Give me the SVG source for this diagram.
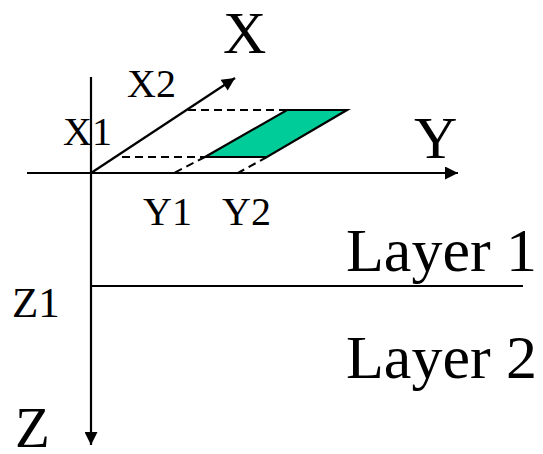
<svg xmlns="http://www.w3.org/2000/svg" width="543" height="454" viewBox="0 0 543 454">
<defs>
<style>
.ax{stroke:#000;stroke-width:2.2;fill:none}
.dash{stroke:#000;stroke-width:2;fill:none;stroke-dasharray:8 5}
.t{font-family:"Liberation Serif","Times New Roman",serif;fill:#000}
.big{font-size:60px}
.lay{font-size:62px}
.lbl{font-size:40px}
</style>
<marker id="ah" viewBox="0 0 10 10" refX="10" refY="5" markerWidth="15" markerHeight="13" markerUnits="userSpaceOnUse" orient="auto">
<path d="M0,0 L10,5 L0,10 z" fill="#000"/>
</marker>
</defs>
<rect width="543" height="454" fill="#fff"/>
<g id="connectors">
<line class="ax" x1="27" y1="173" x2="458" y2="173" marker-end="url(#ah)"/>
<line class="ax" x1="91" y1="77" x2="91" y2="445" marker-end="url(#ah)"/>
<line class="ax" x1="91" y1="173" x2="235" y2="78" marker-end="url(#ah)"/>
<line class="ax" x1="91" y1="286" x2="523" y2="286"/>
<line class="dash" x1="188" y1="110" x2="287" y2="110"/>
<line class="dash" x1="122" y1="157" x2="205" y2="157"/>
<line class="dash" x1="205" y1="157" x2="172" y2="174"/>
<line class="dash" x1="267" y1="157" x2="236" y2="174"/>
</g>
<g id="plane">
<polygon points="205,157 287,110 347,110 267,157" fill="#00CC99" stroke="#000" stroke-width="2.2" stroke-linejoin="miter"/>
</g>
<g id="labels">
<text class="t big" x="223" y="53">X</text>
<text class="t big" x="414" y="158">Y</text>
<text class="t" x="15" y="447" font-size="57">Z</text>
<text class="t lbl" x="63" y="145">X1</text>
<text class="t lbl" x="127" y="97">X2</text>
<text class="t lbl" x="143" y="225">Y1</text>
<text class="t lbl" x="222" y="225">Y2</text>
<text class="t" x="12" y="317" font-size="43">Z1</text>
<text class="t lay" x="346" y="271">Layer 1</text>
<text class="t lay" x="346" y="378">Layer 2</text>
</g>
</svg>
